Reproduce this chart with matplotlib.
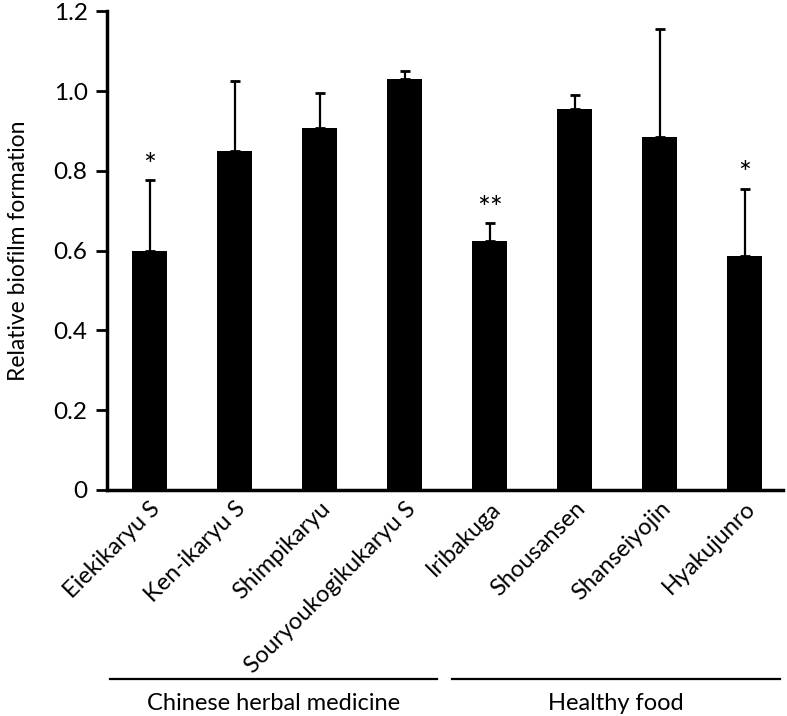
import matplotlib.pyplot as plt
import matplotlib.transforms as mtransforms
import numpy as np

plt.rcParams['font.family'] = ['Lato', 'DejaVu Sans']

names = ['Eiekikaryu S', 'Ken-ikaryu S', 'Shimpikaryu', 'Souryoukogikukaryu S',
         'Iribakuga', 'Shousansen', 'Shanseiyojin', 'Hyakujunro']
values = [0.60, 0.849, 0.907, 1.031, 0.625, 0.956, 0.886, 0.587]
errors = [0.176, 0.177, 0.088, 0.019, 0.043, 0.035, 0.271, 0.168]
stars = ['*', '', '', '', '**', '', '', '*']

groups = ['Chinese herbal medicine', 'Healthy food']
group_span = [(-0.47, 3.38), (3.56, 7.41)]


def main():
    fig = plt.figure(figsize=(7.87, 7.16), dpi=100)
    ax = fig.add_axes([0.136, 0.316, 0.859, 0.668])

    x = np.arange(len(names))
    ax.bar(x, values, width=0.41, color='black')
    ax.errorbar(x, values, yerr=[np.zeros(len(values)), errors], fmt='none',
                ecolor='black', elinewidth=1.6, capsize=3.5, capthick=2)

    for xi, v, e, s in zip(x, values, errors, stars):
        if s:
            ax.text(xi, v + e + 0.002, s, ha='center', va='bottom', fontsize=22)

    ax.set_xlim(-0.5, 7.45)
    ax.set_ylim(0, 1.2)
    ax.set_yticks([0, 0.2, 0.4, 0.6, 0.8, 1.0, 1.2])
    ax.set_yticklabels(['0', '0.2', '0.4', '0.6', '0.8', '1.0', '1.2'], fontsize=17.5)
    ax.set_ylabel('Relative biofilm formation', fontsize=16.5, labelpad=18)

    ax.set_xticks(x)
    ax.set_xticklabels(names, rotation=45, ha='right', rotation_mode='anchor', fontsize=17)
    ax.tick_params(axis='x', length=0, pad=6)
    ax.tick_params(axis='y', direction='out', length=8, width=2, pad=6)

    for side in ['top', 'right']:
        ax.spines[side].set_visible(False)
    ax.spines['left'].set_linewidth(2.5)
    ax.spines['bottom'].set_linewidth(2.5)

    trans = mtransforms.blended_transform_factory(ax.transData, ax.transAxes)
    for label, (x0, x1) in zip(groups, group_span):
        ax.plot([x0, x1], [-0.395, -0.395], color='black', lw=1.6,
                transform=trans, clip_on=False)
        ax.text((x0 + x1) / 2, -0.447, label, ha='center', va='center',
                fontsize=17, transform=trans)

    fig.savefig('out.png', dpi=100)


if __name__ == "__main__":
    main()
